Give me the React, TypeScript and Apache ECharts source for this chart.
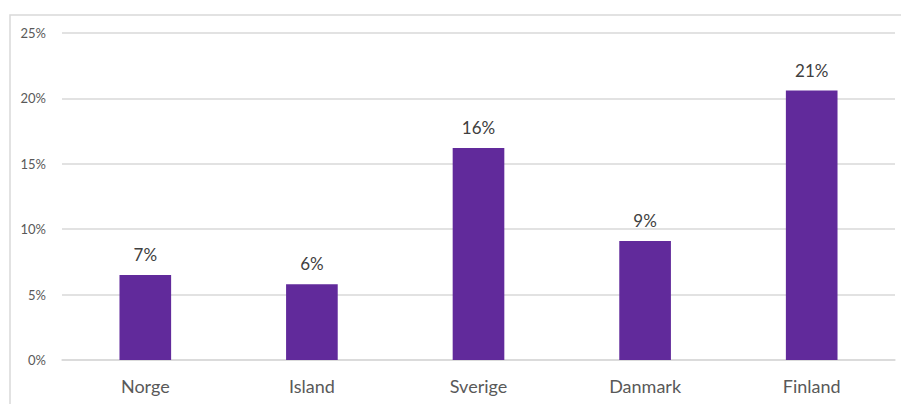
import React, { useEffect, useRef } from "react";
import * as echarts from "echarts";

const categories = ["Norge", "Island", "Sverige", "Danmark", "Finland"];
const values = [6.5, 5.8, 16.2, 9.1, 20.6];
const yTicks = [0, 5, 10, 15, 20, 25];

export default function App() {
  const ref = useRef<HTMLDivElement>(null);
  useEffect(() => {
    document.body.style.margin = "0";
    const chart = echarts.init(ref.current!, null, { renderer: "svg" });
    chart.setOption({
      animation: false,
      backgroundColor: "#ffffff",
      textStyle: { fontFamily: "Lato" },
      graphic: [
        {
          type: "rect",
          shape: { x: 10, y: 15, width: 1000, height: 1000 },
          style: { fill: "none", stroke: "#d9d9d9", lineWidth: 1.5 },
          silent: true,
          z: -1,
        },
      ],
      grid: { left: 62, right: 6, top: 33, bottom: 44 },
      xAxis: {
        type: "category",
        data: categories,
        axisTick: { show: false },
        axisLine: { show: true, lineStyle: { color: "#d9d9d9", width: 1.5 } },
        axisLabel: { color: "#595959", fontSize: 18, margin: 17, fontFamily: "Lato" },
      },
      yAxis: {
        type: "value",
        min: yTicks[0],
        max: yTicks[yTicks.length - 1],
        interval: 5,
        axisLine: { show: false },
        axisTick: { show: false },
        splitLine: { lineStyle: { color: "#d9d9d9", width: 1.5 } },
        axisLabel: {
          color: "#595959",
          fontSize: 13,
          margin: 16,
          fontFamily: "Lato",
          formatter: (v: number) => v + "%",
        },
      },
      series: [
        {
          type: "bar",
          data: values,
          barWidth: "31%",
          itemStyle: { color: "#612a9b" },
          label: {
            show: true,
            position: "top",
            distance: 12,
            color: "#404040",
            fontSize: 17,
            fontFamily: "Lato",
            formatter: (p: any) => Math.round(p.value) + "%",
          },
        },
      ],
    });
    return () => chart.dispose();
  }, []);
  return <div ref={ref} style={{ width: 901, height: 404 }} />;
}
